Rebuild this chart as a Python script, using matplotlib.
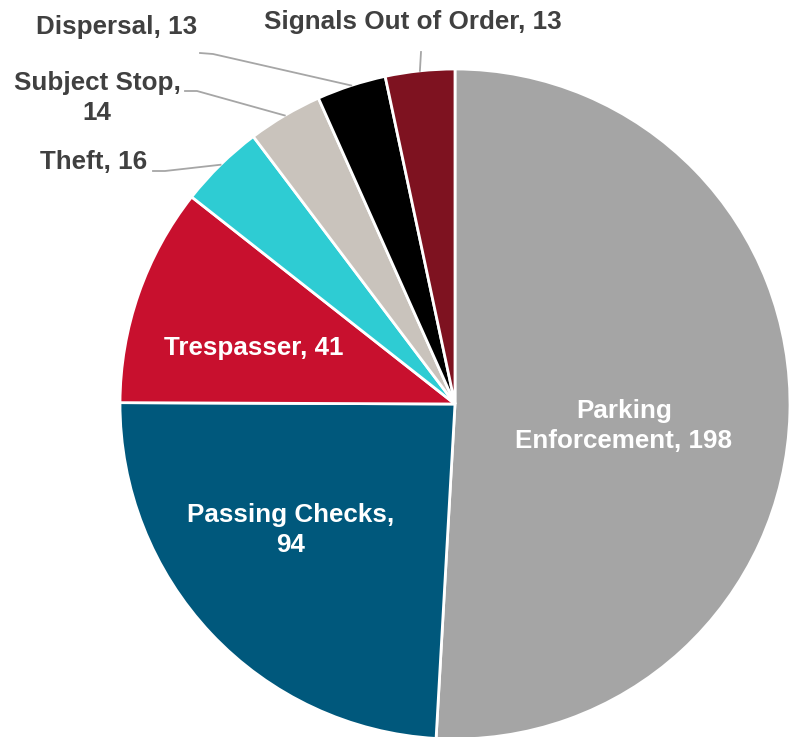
import numpy as np
import matplotlib.pyplot as plt

categories = ["Parking\nEnforcement", "Passing Checks,\n", "Trespasser", "Theft",
              "Subject Stop,\n", "Dispersal", "Signals Out of Order"]
values = [198, 94, 41, 16, 14, 13, 13]
colors = ["#A5A5A5", "#00587C", "#C8102E", "#2ECCD3", "#C9C3BC", "#000000", "#7E1220"]

W, H = 797, 737
fig = plt.figure(figsize=(W / 100, H / 100), dpi=100)
ax = fig.add_axes([0, 0, 1, 1])

cx, cy, r = 455, H - 404, 335
wedges, _ = ax.pie(values, colors=colors, startangle=90, counterclock=False,
                   center=(cx, cy), radius=r,
                   wedgeprops=dict(edgecolor="white", linewidth=2), frame=True)
ax.set_xlim(0, W)
ax.set_ylim(0, H)
ax.set_aspect("equal")
ax.axis("off")

font = dict(family=["Liberation Sans", "DejaVu Sans"], fontweight="bold", fontsize=18.7)


def lab(i):
    c = categories[i]
    if c.endswith("\n"):
        return f"{c}{values[i]}"
    return f"{c}, {values[i]}"


# labels inside the slices
inside = {0: (624, 426), 1: (291, 530), 2: (254, 348)}
for i, (x, y) in inside.items():
    ax.text(x, H - y, lab(i), ha="center", va="center", color="white",
            linespacing=1.3, **font)

# outside labels with leader lines: (text pos, elbow, end)
outside = {
    6: ((413, 22), None, (421, 52)),
    5: ((117, 27), (213, 54), (200, 53)),
    4: ((97, 98), (197, 91), (185, 91)),
    3: ((94, 162), (165, 171), (153, 171)),
}
for i, (tpos, elbow, end) in outside.items():
    w = wedges[i]
    mid = np.deg2rad((w.theta1 + w.theta2) / 2)
    sx, sy = cx + r * np.cos(mid), cy + r * np.sin(mid)
    pts = [(sx, sy)]
    if elbow is not None:
        pts.append((elbow[0], H - elbow[1]))
    pts.append((end[0], H - end[1]))
    xs, ys = zip(*pts)
    ax.plot(xs, ys, color="#A6A6A6", lw=1.3)
    ax.text(tpos[0], H - tpos[1], lab(i), ha="center", va="center", color="#404040",
            linespacing=1.3, **font)

fig.savefig("out.png", dpi=100)
